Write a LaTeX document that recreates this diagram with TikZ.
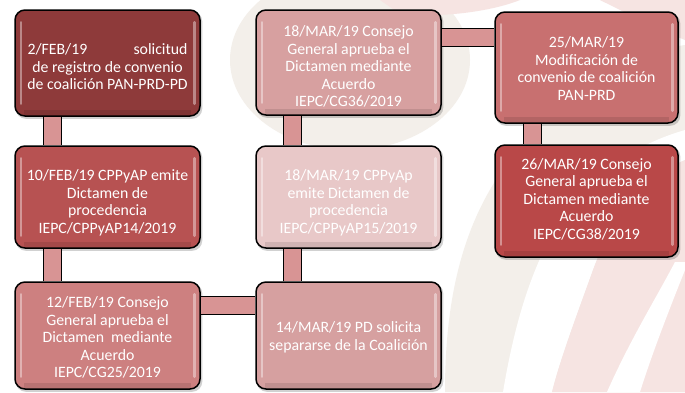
\documentclass[tikz,border=0pt]{standalone}
\usepackage{fontspec}
\setmainfont{Carlito}
\pgfdeclarelayer{bg}
\pgfdeclarelayer{shadow}
\pgfdeclarelayer{conn}
\pgfsetlayers{bg,shadow,conn,main}
\definecolor{cA}{RGB}{142,58,58}
\definecolor{cB}{RGB}{183,82,82}
\definecolor{cC}{RGB}{205,128,128}
\definecolor{cD}{RGB}{215,160,160}
\definecolor{cE}{RGB}{232,200,200}
\definecolor{cF}{RGB}{214,160,160}
\definecolor{cG}{RGB}{200,112,112}
\definecolor{cH}{RGB}{185,72,72}
\definecolor{connC}{RGB}{216,148,148}
\definecolor{bgbeige}{RGB}{243,239,234}
\definecolor{bgpink}{RGB}{246,228,226}
\tikzset{
  box/.style={draw=black, line width=1.5pt, rounded corners=10pt, fill=#1, inner sep=0pt},
  hl/.style={white, opacity=0.4, line width=2.5pt, line cap=round},
  shd/.style={fill=black, opacity=0.18, rounded corners=10pt},
  txt/.style={text=white, font=\fontsize{15.8}{17.5}\selectfont, align=center, inner sep=0pt},
  conn/.style={draw=black, line width=1.2pt, double=connC, double distance=17pt}
}
\begin{document}
\begin{tikzpicture}[x=1pt,y=-1pt]
\useasboundingbox (0,0) rectangle (685,392);
\begin{pgfonlayer}{bg}
  \fill[white] (0,0) rectangle (685,392);
  \fill[bgbeige] (350,60) ellipse [x radius=120pt, y radius=90pt];
  \fill[bgpink] (380,0) -- (520,0) .. controls (490,12) and (440,18) .. (400,14) -- cycle;
  \fill[bgpink] (600,0) -- (685,0) -- (685,40) .. controls (660,30) and (630,15) .. (600,0) -- cycle;
  \fill[bgbeige] (445,392) .. controls (445,280) and (470,180) .. (560,110) .. controls (610,70) and (650,50) .. (685,45) -- (685,392) -- cycle;
  \fill[white] (503,392) .. controls (515,320) and (535,250) .. (575,200) .. controls (610,160) and (650,140) .. (685,130) -- (685,160) .. controls (650,175) and (615,210) .. (593,270) .. controls (575,320) and (560,360) .. (552,392) -- cycle;
  \fill[bgpink] (552,392) .. controls (560,360) and (575,320) .. (593,270) .. controls (615,210) and (650,175) .. (685,160) -- (685,392) -- cycle;
  \fill[white] (607,392) .. controls (630,340) and (655,300) .. (675,262) -- (685,262) -- (685,270) .. controls (665,320) and (650,360) .. (640,392) -- cycle;
\end{pgfonlayer}

% boxes
\node[box=cA, minimum width=185pt, minimum height=106pt] (b1) at (107.5,63) {};
\node[box=cB, minimum width=185pt, minimum height=102pt] (b2) at (107.5,197) {};
\node[box=cC, minimum width=185pt, minimum height=107pt] (b3) at (107.5,335.5) {};
\node[box=cD, minimum width=185pt, minimum height=105pt] (b4) at (348.5,62.5) {};
\node[box=cE, minimum width=185pt, minimum height=102pt] (b5) at (348.5,197) {};
\node[box=cF, minimum width=185pt, minimum height=107pt] (b6) at (348.5,335.5) {};
\node[box=cG, minimum width=183pt, minimum height=111pt] (b7) at (586.5,67.5) {};
\node[box=cH, minimum width=183pt, minimum height=112pt] (b8) at (586.5,201) {};

% bevel highlights and shadows
\foreach \b in {b1,b2,b3,b4,b5,b6,b7,b8}{
  \draw[hl] ([xshift=6.5pt,yshift=-13pt]\b.north west) -- ([xshift=6.5pt,yshift=13pt]\b.south west);
  \draw[hl] ([xshift=-6.5pt,yshift=-13pt]\b.north east) -- ([xshift=-6.5pt,yshift=13pt]\b.south east);
  \fill[black, opacity=0.10] ([xshift=10pt,yshift=7pt]\b.south west) rectangle ([xshift=-10pt,yshift=1pt]\b.south east);
  \begin{pgfonlayer}{shadow}
    \fill[shd] ([xshift=1.5pt,yshift=-2pt]\b.north west) rectangle ([xshift=1.5pt,yshift=-2pt]\b.south east);
  \end{pgfonlayer}
}

% texts
\node[txt] (t1) at ([yshift=-4pt]b1.center) {\hbox to 160pt{2/FEB/19\hfill solicitud}\\de registro de convenio\\de coalición PAN-PRD-PD};
\node[txt] (t2) at ([yshift=-6pt]b2.center) {10/FEB/19 CPPyAP emite\\Dictamen de\\procedencia\\IEPC/CPPyAP14/2019};
\node[txt] (t3) at ([yshift=-2pt]b3.center) {12/FEB/19 Consejo\\General aprueba el\\Dictamen\ \ mediante\\Acuerdo\\IEPC/CG25/2019};
\node[txt] (t4) at ([yshift=-4pt]b4.center) {18/MAR/19 Consejo\\General aprueba el\\Dictamen mediante\\Acuerdo\\IEPC/CG36/2019};
\node[txt] (t5) at ([yshift=-6pt]b5.center) {18/MAR/19 CPPyAp\\emite Dictamen de\\procedencia\\IEPC/CPPyAP15/2019};
\node[txt] (t6) at ([yshift=-2pt]b6.center) {14/MAR/19 PD solicita\\separarse de la Coalición};
\node[txt] (t7) at ([yshift=-1pt]b7.center) {25/MAR/19\\Modificación de\\convenio de coalición\\PAN-PRD};
\node[txt] (t8) at ([yshift=2pt]b8.center) {26/MAR/19 Consejo\\General aprueba el\\Dictamen mediante\\Acuerdo\\IEPC/CG38/2019};

% connectors
\begin{pgfonlayer}{conn}
  \draw[conn] ([xshift=38.5pt]b1.south west) -- ([xshift=38.5pt]b2.north west);
  \draw[conn] ([xshift=38.5pt]b2.south west) -- ([xshift=38.5pt]b3.north west);
  \draw[conn] ([yshift=-24pt]b3.north east) -- ([yshift=-24pt]b6.north west);
  \draw[conn] ([xshift=37pt]b6.north west) -- ([xshift=37pt]b5.south west);
  \draw[conn] ([xshift=37pt]b5.north west) -- ([xshift=37pt]b4.south west);
  \draw[conn] ([yshift=-28pt]b4.north east) -- ([yshift=-28pt]b4.north east -| b7.west);
  \draw[conn] ([xshift=38.5pt]b7.south west) -- ([xshift=38.5pt]b8.north west);
\end{pgfonlayer}
\end{tikzpicture}
\end{document}
